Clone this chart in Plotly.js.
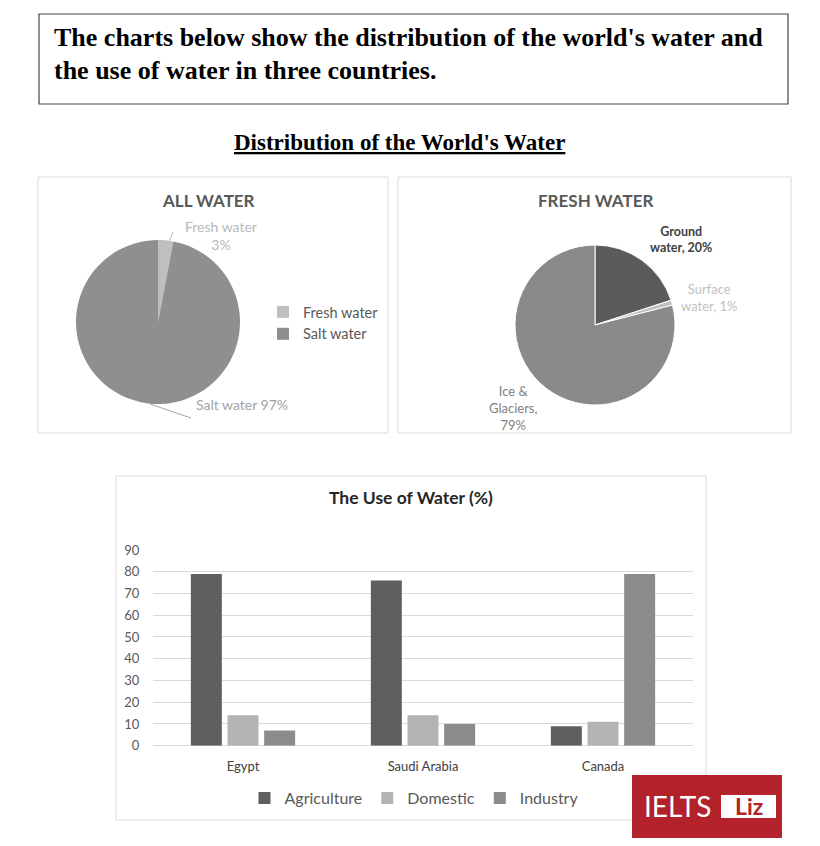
<!DOCTYPE html>
<html>
<head>
<meta charset="utf-8">
<script src="https://cdn.plot.ly/plotly-3.0.1.min.js"></script>
<style>html,body{margin:0;padding:0;background:#fff;}#chart{width:820px;height:846px;}</style>
</head>
<body>
<div id="chart"></div>
<script>
// ---- data ----
const allLabels = ['Fresh water', 'Salt water'];
const allValues = [3, 97];
const freshLabels = ['Ground water', 'Surface water', 'Ice & Glaciers'];
const freshValues = [20, 1, 79];
const countries = ['Egypt', 'Saudi Arabia', 'Canada'];
const agriculture = [79, 76, 9];
const domestic = [14, 14, 11];
const industry = [7, 10, 79];
const yTickVals = [0, 10, 20, 30, 40, 50, 60, 70, 80, 90];

// ---- helpers (page pixel -> paper) ----
const W = 820, H = 846;
const X = p => p / W;
const Y = p => 1 - p / H;
const SANS = 'Lato, "Open Sans", sans-serif';
const SERIF = '"Liberation Serif", "DejaVu Serif", serif';

const traces = [
  {
    type: 'pie', labels: allLabels, values: allValues, sort: false,
    direction: 'clockwise', rotation: 0, textinfo: 'none', hoverinfo: 'label+percent',
    marker: {colors: ['#bfbfbf', '#8f8f8f'], line: {width: 0}},
    domain: {x: [X(76), X(240)], y: [Y(404), Y(240)]},
    legend: 'legend', showlegend: true
  },
  {
    type: 'pie', labels: freshLabels, values: freshValues, sort: false,
    direction: 'clockwise', rotation: 0, textinfo: 'none', hoverinfo: 'label+percent',
    marker: {colors: ['#5b5b5b', '#bfbfbf', '#8a8a8a'], line: {width: 1, color: '#ffffff'}},
    domain: {x: [X(515), X(675)], y: [Y(405), Y(245)]},
    showlegend: false
  },
  {type: 'bar', name: 'Agriculture', x: countries, y: agriculture, marker: {color: '#5f5f5f'}, legend: 'legend2', xaxis: 'x', yaxis: 'y'},
  {type: 'bar', name: 'Domestic', x: countries, y: domestic, marker: {color: '#b3b3b3'}, legend: 'legend2', xaxis: 'x', yaxis: 'y'},
  {type: 'bar', name: 'Industry', x: countries, y: industry, marker: {color: '#8b8b8b'}, legend: 'legend2', xaxis: 'x', yaxis: 'y'}
];

const rect = (x0, y0, x1, y1, line, fill) => ({
  type: 'rect', xref: 'paper', yref: 'paper', x0: X(x0), x1: X(x1), y0: Y(y1), y1: Y(y0),
  line: line, fillcolor: fill || 'rgba(0,0,0,0)', layer: 'below'
});
const seg = (x0, y0, x1, y1, color) => ({
  type: 'line', xref: 'paper', yref: 'paper', x0: X(x0), x1: X(x1), y0: Y(y0), y1: Y(y1),
  line: {color: color, width: 1}
});
const ann = (x, y, text, font, opts) => Object.assign({
  xref: 'paper', yref: 'paper', x: X(x), y: Y(y), text: text, showarrow: false,
  xanchor: 'center', yanchor: 'middle', font: font
}, opts || {});

const shapes = [
  rect(39, 14, 788, 104, {color: '#444444', width: 1.2}),
  rect(38, 177, 388, 433, {color: '#d9d9d9', width: 1}),
  rect(398, 177, 791, 433, {color: '#d9d9d9', width: 1}),
  rect(116, 476, 706, 820, {color: '#d9d9d9', width: 1}),
  seg(173, 232, 169, 242, '#bfbfbf'),
  seg(150, 404, 191, 418, '#a6a6a6'),
  Object.assign(rect(632, 775, 782, 838, {width: 0}, '#b3212a'), {layer: 'above'}),
  Object.assign(rect(721, 795, 776, 818, {width: 0}, '#ffffff'), {layer: 'above'})
];

const annotations = [
  ann(52, 38, "<b>The charts below show the distribution of the world's water and</b>", {family: SERIF, size: 26, color: '#000'}, {xanchor: 'left'}),
  ann(52, 71, "<b>the use of water in three countries.</b>", {family: SERIF, size: 26, color: '#000'}, {xanchor: 'left'}),
  ann(399, 143, "<b><u>Distribution of the World's Water</u></b>", {family: SERIF, size: 23, color: '#000'}),
  ann(208, 200, '<b>ALL WATER</b>', {family: SANS, size: 17, color: '#595959'}),
  ann(595, 200, '<b>FRESH WATER</b>', {family: SANS, size: 17, color: '#595959'}),
  ann(221, 236, allLabels[0] + '<br>' + allValues[0] + '%', {family: SANS, size: 14, color: '#b8b8b8'}),
  ann(242, 404, allLabels[1] + ' ' + allValues[1] + '%', {family: SANS, size: 14, color: '#a3a3a3'}),
  ann(681, 240, '<b>Ground<br>water, ' + freshValues[0] + '%</b>', {family: SANS, size: 12.5, color: '#404040'}),
  ann(709, 297, 'Surface<br>water, ' + freshValues[1] + '%', {family: SANS, size: 13, color: '#bfbfbf'}),
  ann(513, 408, 'Ice &<br>Glaciers,<br>' + freshValues[2] + '%', {family: SANS, size: 13, color: '#7f7f7f'}),
  ann(411, 498, '<b>The Use of Water (%)</b>', {family: SANS, size: 17.5, color: '#262626'}),
  ann(677, 806, 'IELTS', {family: SANS, size: 28, color: '#ffffff'}),
  ann(749, 806, '<b>Liz</b>', {family: SANS, size: 23, color: '#b3212a'})
];

const layout = {
  width: W, height: H, margin: {l: 0, r: 0, t: 0, b: 0},
  paper_bgcolor: '#ffffff', plot_bgcolor: 'rgba(0,0,0,0)',
  font: {family: SANS, color: '#595959'},
  barmode: 'group', bargap: 0.389, bargroupgap: 0.155,
  xaxis: {
    domain: [X(153), X(693)], anchor: 'y', showgrid: false, showline: false, zeroline: false,
    ticks: 'outside', ticklen: 9, tickcolor: 'rgba(0,0,0,0)',
    tickfont: {family: SANS, size: 13, color: '#404040'}, fixedrange: true
  },
  yaxis: {
    domain: [Y(745.7), Y(550)], anchor: 'x', range: [0, 90], tickvals: yTickVals,
    showgrid: true, gridcolor: '#d9d9d9', gridwidth: 1, zeroline: true, zerolinecolor: '#d9d9d9',
    showline: false, ticks: 'outside', ticklen: 10, tickcolor: 'rgba(0,0,0,0)',
    tickfont: {family: SANS, size: 13, color: '#595959'}, fixedrange: true
  },
  legend: {
    x: X(263), y: Y(323), xanchor: 'left', yanchor: 'middle', orientation: 'v',
    font: {family: SANS, size: 14.5, color: '#595959'}, bgcolor: 'rgba(0,0,0,0)', itemwidth: 30
  },
  legend2: {
    x: X(414), y: Y(798), xanchor: 'center', yanchor: 'middle', orientation: 'h',
    font: {family: SANS, size: 16, color: '#595959'}, bgcolor: 'rgba(0,0,0,0)', itemwidth: 30
  },
  shapes: shapes,
  annotations: annotations,
  showlegend: true
};

Plotly.newPlot('chart', traces, layout, {displayModeBar: false, staticPlot: true});
</script>
</body>
</html>
